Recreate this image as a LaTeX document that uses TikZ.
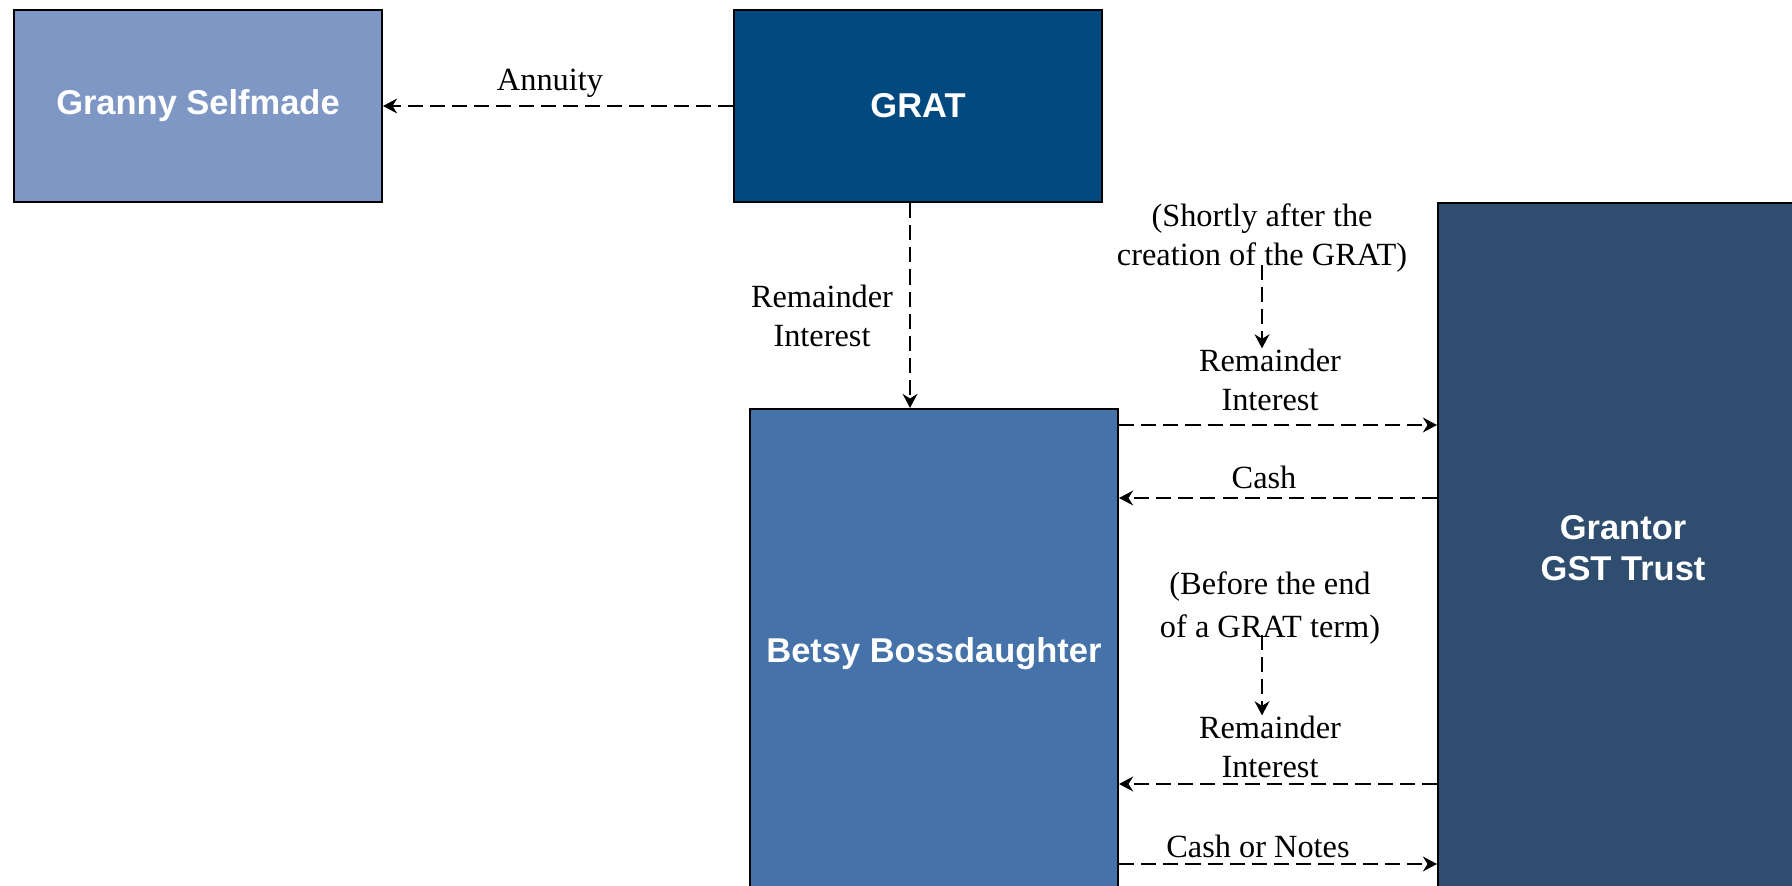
\documentclass[tikz,border=0pt]{standalone}
\usepackage{fontspec}
\setmainfont{Liberation Serif}
\newfontfamily\boxfont{Liberation Sans}
\usetikzlibrary{positioning,arrows.meta}

\definecolor{grannyblue}{HTML}{7E97C5}
\definecolor{gratblue}{HTML}{02497F}
\definecolor{betsyblue}{HTML}{4572A8}
\definecolor{trustblue}{HTML}{2E4D6F}

\begin{document}
\begin{tikzpicture}[x=0.01cm, y=-0.01cm,
    box/.style={draw=black, line width=0.5pt, text=white, align=center, inner sep=0pt,
        font=\boxfont\bfseries\fontsize{9.8}{11.7}\selectfont},
    flow/.style={-{Stealth[length=4pt, width=4.2pt, inset=1.3pt]}, line width=0.65pt, dash pattern=on 4.3pt off 2pt},
    note/.style={align=center, inner sep=0pt, font=\fontsize{9.2}{11.1}\selectfont}]
    \useasboundingbox (0,0) rectangle (1792,886);
    % the four parties
    \node [box, fill=grannyblue, minimum width=3.68cm, minimum height=1.92cm] (granny) at (198,106) {Granny Selfmade};
    \node [box, fill=gratblue, minimum width=3.68cm, minimum height=1.92cm] (grat) at (918,106) {GRAT};
    \node [box, fill=betsyblue, minimum width=3.68cm, minimum height=4.9cm] (betsy) at (934,654) {Betsy Bossdaughter};
    \node [box, fill=trustblue, minimum width=3.7cm, minimum height=6.9cm] (trust) at (1623,548) {Grantor\\GST Trust};
    % labels
    \node [note, anchor=base] (annuity) at (550,91) {Annuity};
    \node [note] (rem1) at (822,316) {Remainder\\Interest};
    \node [note] (shortly) at (1262,238) {(Shortly after the\\creation of the GRAT)};
    \node [note] (rem2) at (1270,380) {Remainder\\Interest};
    \node [note, anchor=base] (cash) at (1264,489) {Cash};
    \node [note, font=\fontsize{9.2}{12}\selectfont] (before) at (1270,608) {(Before the end\\of a GRAT term)};
    \node [note] (rem3) at (1270,747) {Remainder\\Interest};
    \node [note, anchor=base] (notes) at (1258,857) {Cash or Notes};
    % flows
    \draw [flow] (grat.west) -- (granny.east);
    \draw [flow] ([xshift=-0.08cm]grat.south) -- ([xshift=-0.08cm]grat.south |- betsy.north);
    \coordinate (t1) at (1262,265);
    \draw [flow] (t1) -- (t1 |- rem2.north);
    \coordinate (t2) at (1262,635);
    \draw [flow] (t2) -- (t2 |- rem3.north);
    \draw [flow] (betsy.east |- 0,425) -- (trust.west |- 0,425);
    \draw [flow] (trust.west |- 0,498) -- (betsy.east |- 0,498);
    \draw [flow] (trust.west |- 0,784) -- (betsy.east |- 0,784);
    \draw [flow] (betsy.east |- 0,864) -- (trust.west |- 0,864);
\end{tikzpicture}
\end{document}
